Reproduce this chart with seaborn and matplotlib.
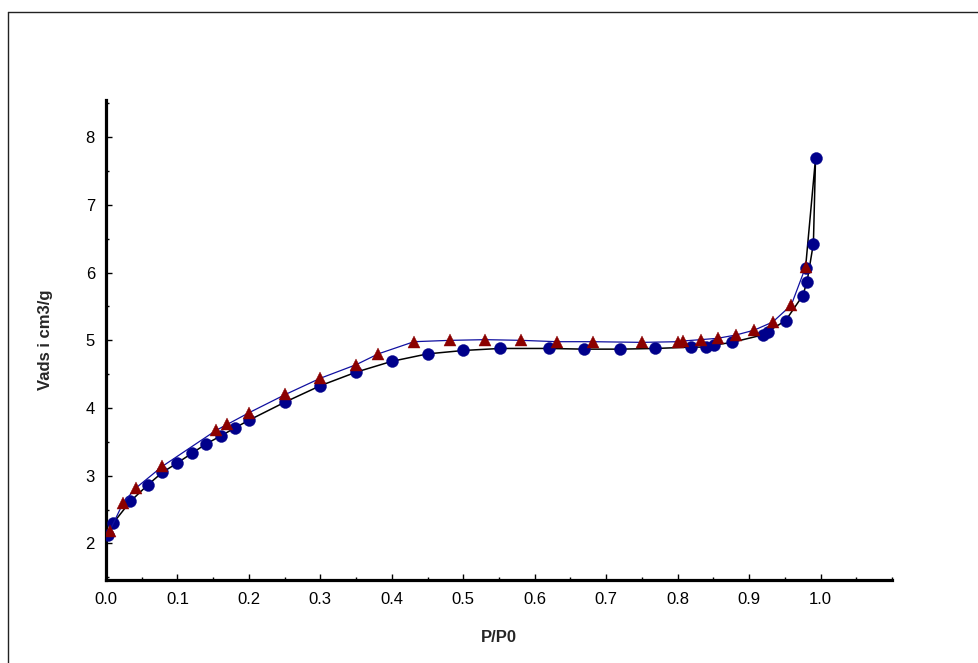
import matplotlib
matplotlib.use("Agg")
import matplotlib.pyplot as plt
import seaborn as sns
import pandas as pd
import numpy as np
from matplotlib.ticker import MultipleLocator, FormatStrFormatter
from matplotlib.lines import Line2D

# Adsorption branch (circles, black line) -- last point returns to the desorption start
ads_p = [0.003, 0.010, 0.034, 0.059, 0.079, 0.100, 0.120, 0.140, 0.161, 0.181,
         0.200, 0.251, 0.300, 0.350, 0.400, 0.450, 0.500, 0.551, 0.620, 0.669,
         0.720, 0.769, 0.819, 0.840, 0.851, 0.876, 0.919, 0.926, 0.951, 0.975,
         0.981, 0.990, 0.993, 0.979]
ads_v = [2.13, 2.30, 2.62, 2.87, 3.05, 3.19, 3.33, 3.47, 3.59, 3.71,
         3.82, 4.09, 4.33, 4.53, 4.69, 4.80, 4.85, 4.88, 4.88, 4.87,
         4.87, 4.88, 4.90, 4.90, 4.93, 4.97, 5.08, 5.13, 5.29, 5.66,
         5.86, 6.43, 7.69, 6.07]

# Desorption branch (triangles, blue line)
des_p = [0.979, 0.959, 0.933, 0.907, 0.882, 0.856, 0.832, 0.807, 0.801, 0.750,
         0.681, 0.631, 0.581, 0.531, 0.482, 0.431, 0.381, 0.350, 0.300, 0.251,
         0.200, 0.170, 0.154, 0.079, 0.042, 0.024, 0.005]
des_v = [6.08, 5.52, 5.27, 5.15, 5.08, 5.03, 5.01, 4.99, 4.98, 4.97,
         4.98, 4.98, 5.00, 5.01, 5.00, 4.98, 4.80, 4.64, 4.44, 4.20,
         3.93, 3.76, 3.67, 3.14, 2.82, 2.60, 2.18]

x_ticks = [0.0, 0.1, 0.2, 0.3, 0.4, 0.5, 0.6, 0.7, 0.8, 0.9, 1.0]
y_ticks = [2, 3, 4, 5, 6, 7, 8]
x_label = "P/P0"
y_label = "Vads i cm3/g"

sns.set_style("ticks")
plt.rcParams["font.family"] = ["Liberation Sans", "DejaVu Sans"]

fig = plt.figure(figsize=(9.79, 6.63), dpi=100)
ax = fig.add_axes([106 / 979, 1 - 580 / 663, (892 - 106) / 979, (580 - 100) / 663])

ads = pd.DataFrame({"p": ads_p, "v": ads_v})
des = pd.DataFrame({"p": des_p, "v": des_v})

sns.lineplot(data=ads, x="p", y="v", sort=False, estimator=None, ax=ax,
             color="black", linewidth=1.1, marker="o", markersize=8.6,
             markerfacecolor="#00008B", markeredgecolor="#00008B", markeredgewidth=0.3,
             zorder=3)
sns.lineplot(data=des, x="p", y="v", sort=False, estimator=None, ax=ax,
             color="#1010A0", linewidth=0.9, marker="^", markersize=8.6,
             markerfacecolor="#8B0000", markeredgecolor="#8B0000", markeredgewidth=0.3,
             zorder=4)

ax.set_xlim(0, 1.1)
ax.set_ylim(1.46, 8.55)
ax.set_xticks(x_ticks)
ax.set_yticks(y_ticks)
ax.xaxis.set_major_formatter(FormatStrFormatter("%.1f"))
ax.xaxis.set_minor_locator(MultipleLocator(0.05))
ax.yaxis.set_minor_locator(MultipleLocator(0.5))

for side in ["top", "right"]:
    ax.spines[side].set_visible(False)
for side in ["left", "bottom"]:
    ax.spines[side].set_linewidth(2.3)
    ax.spines[side].set_color("black")

ax.tick_params(which="major", direction="in", length=4.5, width=1, color="black",
               labelsize=12, labelcolor="black")
ax.tick_params(which="minor", direction="in", length=2.5, width=1, color="black")
ax.tick_params(axis="x", which="major", pad=8.5)
ax.tick_params(axis="y", which="major", pad=8)

ax.set_xlabel(x_label, fontsize=12, fontweight="bold", va="center", ha="center")
ax.set_ylabel(y_label, fontsize=12, fontweight="bold", va="center", ha="center")
ax.xaxis.set_label_coords(0.5, (580 - 637) / 480)
ax.yaxis.set_label_coords((46 - 106) / 786, 0.5)

# outer frame lines
ytop = 1 - 11.5 / 663
xleft = 8 / 979
fig.add_artist(Line2D([xleft, 1.0], [ytop, ytop], transform=fig.transFigure,
                      color="#222222", linewidth=1.0))
fig.add_artist(Line2D([xleft, xleft], [0.0, ytop], transform=fig.transFigure,
                      color="#222222", linewidth=1.0))

fig.savefig("out.png", dpi=100, facecolor="white")
